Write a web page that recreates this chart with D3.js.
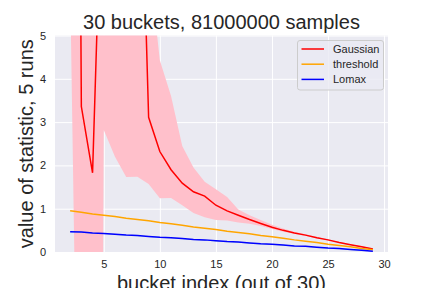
<!DOCTYPE html>
<html>
<head>
<meta charset="utf-8">
<script src="https://cdn.jsdelivr.net/npm/d3@7"></script>
<style>
  body { margin: 0; background: #fff; }
  text { font-family: "Liberation Sans", Arial, sans-serif; fill: #262626; }
</style>
</head>
<body>
<div id="chart"></div>
<script>
/*
 * Data
 */
const buckets = [2, 3, 4, 5, 6, 7, 8, 9, 10, 11, 12, 13, 14, 15, 16, 17, 18, 19, 20, 21, 22, 23, 24, 25, 26, 27, 28, 29]
const gaussMean = [45, 3.36, 1.83, 10.2, 9, 8, 12.1, 3.11, 2.32, 1.9, 1.59, 1.39, 1.29, 1.08, 0.95, 0.85, 0.75, 0.66, 0.57, 0.5, 0.44, 0.39, 0.33, 0.28, 0.22, 0.17, 0.12, 0.07]
const gaussHigh = [90, 17, 53, 18, 16, 14, 22, 6.8, 4.43, 3.6, 2.45, 1.95, 1.62, 1.45, 1.27, 0.98, 0.85, 0.74, 0.63, 0.54, 0.47, 0.41, 0.35, 0.29, 0.23, 0.18, 0.13, 0.08]
const gaussLow = [6.2, -10.5, -50, 2.82, 2.2, 1.73, 1.74, 1.57, 1.24, 1.25, 1.08, 0.9, 0.8, 0.74, 0.73, 0.68, 0.65, 0.6, 0.53, 0.47, 0.42, 0.37, 0.32, 0.27, 0.21, 0.16, 0.11, 0.06]
const threshold = [0.95, 0.92, 0.88, 0.85, 0.82, 0.78, 0.75, 0.72, 0.68, 0.65, 0.62, 0.58, 0.55, 0.52, 0.48, 0.45, 0.42, 0.38, 0.35, 0.32, 0.28, 0.25, 0.22, 0.18, 0.15, 0.12, 0.08, 0.05]
const lomax = [0.47, 0.46, 0.44, 0.43, 0.41, 0.39, 0.38, 0.36, 0.34, 0.33, 0.31, 0.29, 0.28, 0.26, 0.24, 0.23, 0.21, 0.19, 0.18, 0.16, 0.14, 0.13, 0.11, 0.09, 0.08, 0.06, 0.04, 0.02]
const lomaxHigh = [0.475, 0.465, 0.445, 0.435, 0.415, 0.395, 0.385, 0.365, 0.345, 0.335, 0.315, 0.295, 0.285, 0.265, 0.245, 0.235, 0.215, 0.195, 0.185, 0.165, 0.145, 0.135, 0.115, 0.095, 0.085, 0.065, 0.045, 0.025]
const lomaxLow = [0.455, 0.445, 0.425, 0.415, 0.395, 0.375, 0.365, 0.345, 0.325, 0.315, 0.295, 0.275, 0.265, 0.245, 0.225, 0.215, 0.195, 0.175, 0.165, 0.145, 0.125, 0.115, 0.095, 0.075, 0.065, 0.045, 0.03, 0.015]
const xTicks = [5, 10, 15, 20, 25, 30]
const yTicks = [0, 1, 2, 3, 4, 5]
const legendItems = [
  { name: 'Gaussian', color: 'red' },
  { name: 'threshold', color: 'orange' },
  { name: 'Lomax', color: 'blue' }
]

/*
 * Initialize SVG
 */
const w = 432
const h = 288
const plot = { left: 55, right: 388, top: 35.5, bottom: 252 }

const svg = d3.select('#chart')
  .append('svg')
  .attr('width', w)
  .attr('height', h)

const x = d3.scaleLinear().domain([0.65, 30.35]).range([plot.left, plot.right])
const y = d3.scaleLinear().domain([0, 5]).range([plot.bottom, plot.top])

svg.append('rect')
  .attr('x', plot.left)
  .attr('y', plot.top)
  .attr('width', plot.right - plot.left)
  .attr('height', plot.bottom - plot.top)
  .style('fill', '#eaeaf2')

svg.append('clipPath')
  .attr('id', 'clip')
  .append('rect')
  .attr('x', plot.left)
  .attr('y', plot.top)
  .attr('width', plot.right - plot.left)
  .attr('height', plot.bottom - plot.top)

// grid + axes (no tick marks, seaborn darkgrid look)
const xAxis = svg.append('g')
  .attr('transform', `translate(0,${plot.bottom})`)
  .call(d3.axisBottom(x).tickValues(xTicks).tickFormat(d3.format('d'))
    .tickSize(-(plot.bottom - plot.top)).tickPadding(8))
const yAxis = svg.append('g')
  .attr('transform', `translate(${plot.left},0)`)
  .call(d3.axisLeft(y).tickValues(yTicks).tickFormat(d3.format('d'))
    .tickSize(-(plot.right - plot.left)).tickPadding(9))

;[xAxis, yAxis].forEach(ax => {
  ax.select('.domain').remove()
  ax.selectAll('line').style('stroke', '#fff').style('stroke-width', 1)
  ax.selectAll('text')
    .style('font-size', '11px')
    .style('font-family', '"Liberation Sans", Arial, sans-serif')
    .style('fill', '#262626')
})

const rows = buckets.map((b, i) => ({
  b: b,
  mean: gaussMean[i],
  hi: gaussHigh[i],
  lo: gaussLow[i],
  thr: threshold[i],
  lom: lomax[i],
  lomHi: lomaxHigh[i],
  lomLo: lomaxLow[i]
}))

const g = svg.append('g').attr('clip-path', 'url(#clip)')

g.append('path')
  .datum(rows)
  .attr('d', d3.area().x(d => x(d.b)).y0(d => y(d.lo)).y1(d => y(d.hi)))
  .style('fill', 'pink')

g.append('path')
  .datum(rows)
  .attr('d', d3.line().x(d => x(d.b)).y(d => y(d.mean)))
  .style('fill', 'none')
  .style('stroke', 'red')
  .style('stroke-width', 1.5)

g.append('path')
  .datum(rows)
  .attr('d', d3.line().x(d => x(d.b)).y(d => y(d.thr)))
  .style('fill', 'none')
  .style('stroke', 'orange')
  .style('stroke-width', 1.5)

g.append('path')
  .datum(rows)
  .attr('d', d3.area().x(d => x(d.b)).y0(d => y(d.lomLo)).y1(d => y(d.lomHi)))
  .style('fill', 'lightblue')

g.append('path')
  .datum(rows)
  .attr('d', d3.line().x(d => x(d.b)).y(d => y(d.lom)))
  .style('fill', 'none')
  .style('stroke', 'blue')
  .style('stroke-width', 1.5)

/*
 * Legend
 */
const legend = svg.append('g').attr('transform', 'translate(297.5,40.5)')
legend.append('rect')
  .attr('width', 86)
  .attr('height', 49.5)
  .attr('rx', 2.5)
  .style('fill', 'rgba(234,234,242,0.8)')
  .style('stroke', '#cccccc')
  .style('stroke-width', 1)

legendItems.forEach((item, i) => {
  const ly = 8.5 + i * 15.2
  legend.append('line')
    .attr('x1', 4).attr('x2', 26.5)
    .attr('y1', ly).attr('y2', ly)
    .style('stroke', item.color)
    .style('stroke-width', 1.5)
  legend.append('text')
    .attr('x', 35.5)
    .attr('y', ly + 4)
    .style('font-size', '11px')
    .text(item.name)
})

/*
 * Titles
 */
svg.append('text')
  .attr('x', (plot.left + plot.right) / 2)
  .attr('y', 29)
  .attr('text-anchor', 'middle')
  .style('font-size', '20px')
  .text('30 buckets, 81000000 samples')

// the x label sits partly below the bottom edge, as in the reference
svg.append('text')
  .attr('x', (plot.left + plot.right) / 2)
  .attr('y', 290)
  .attr('text-anchor', 'middle')
  .style('font-size', '20px')
  .text('bucket index (out of 30)')

svg.append('text')
  .attr('transform', `translate(33,${(plot.top + plot.bottom) / 2}) rotate(-90)`)
  .attr('text-anchor', 'middle')
  .style('font-size', '20px')
  .text('value of statistic, 5 runs')
</script>
</body>
</html>
